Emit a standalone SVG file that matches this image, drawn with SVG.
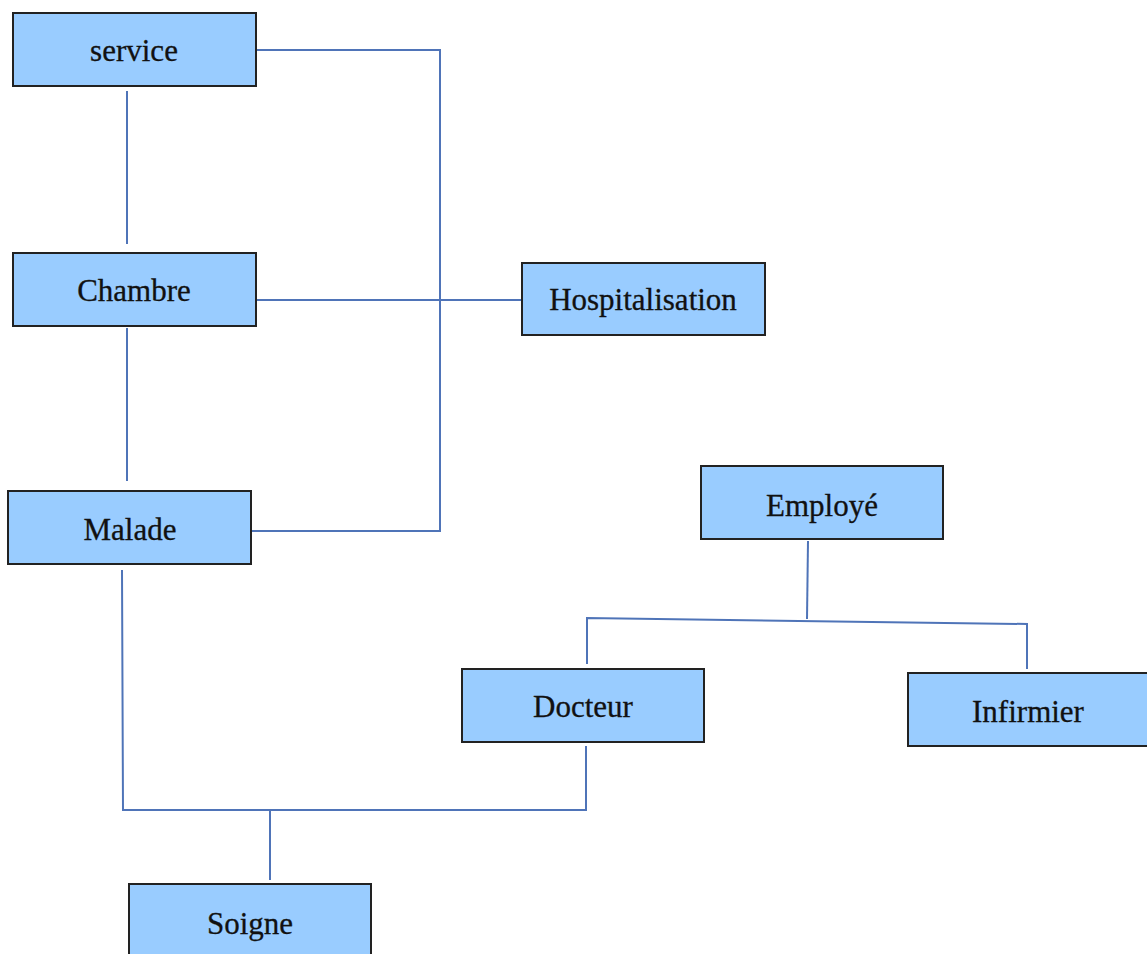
<svg xmlns="http://www.w3.org/2000/svg" width="1147" height="954" viewBox="0 0 1147 954">
<style>
.box{fill:#99ccff;stroke:#222;stroke-width:2}
.lbl{font-family:"Liberation Serif","Times New Roman",serif;font-size:31px;fill:#111;stroke:#111;stroke-width:0.3;text-anchor:middle}
.ln{fill:none;stroke:#4f74b8;stroke-width:2}
</style>
<rect width="1147" height="954" fill="#fff"/>
<g id="connectors">
<polyline class="ln" points="256,50 440,50 440,531 251,531"/>
<line class="ln" x1="256" y1="300" x2="522" y2="300"/>
<line class="ln" x1="127" y1="91" x2="127" y2="244"/>
<line class="ln" x1="127" y1="328" x2="127" y2="481"/>
<polyline class="ln" points="122,570 123,810 586,810 586,746"/>
<line class="ln" x1="270" y1="810" x2="270" y2="880"/>
<line class="ln" x1="808" y1="541" x2="807" y2="619"/>
<polyline class="ln" points="587,664 587,618 1027,624 1027,669"/>
</g>
<g id="service"><rect class="box" x="13" y="13" width="243" height="73"/><text class="lbl" x="134" y="61">service</text></g>
<g id="chambre"><rect class="box" x="13" y="253" width="243" height="73"/><text class="lbl" x="134" y="301">Chambre</text></g>
<g id="malade"><rect class="box" x="8" y="491" width="243" height="73"/><text class="lbl" x="130" y="540">Malade</text></g>
<g id="hospitalisation"><rect class="box" x="522" y="263" width="243" height="72"/><text class="lbl" x="643" y="310">Hospitalisation</text></g>
<g id="employe"><rect class="box" x="701" y="466" width="242" height="73"/><text class="lbl" x="822" y="516">Employé</text></g>
<g id="docteur"><rect class="box" x="462" y="669" width="242" height="73"/><text class="lbl" x="583" y="717">Docteur</text></g>
<g id="infirmier"><rect class="box" x="908" y="673" width="245" height="73"/><text class="lbl" x="1028" y="722">Infirmier</text></g>
<g id="soigne"><rect class="box" x="129" y="884" width="242" height="80"/><text class="lbl" x="250" y="934">Soigne</text></g>
</svg>
